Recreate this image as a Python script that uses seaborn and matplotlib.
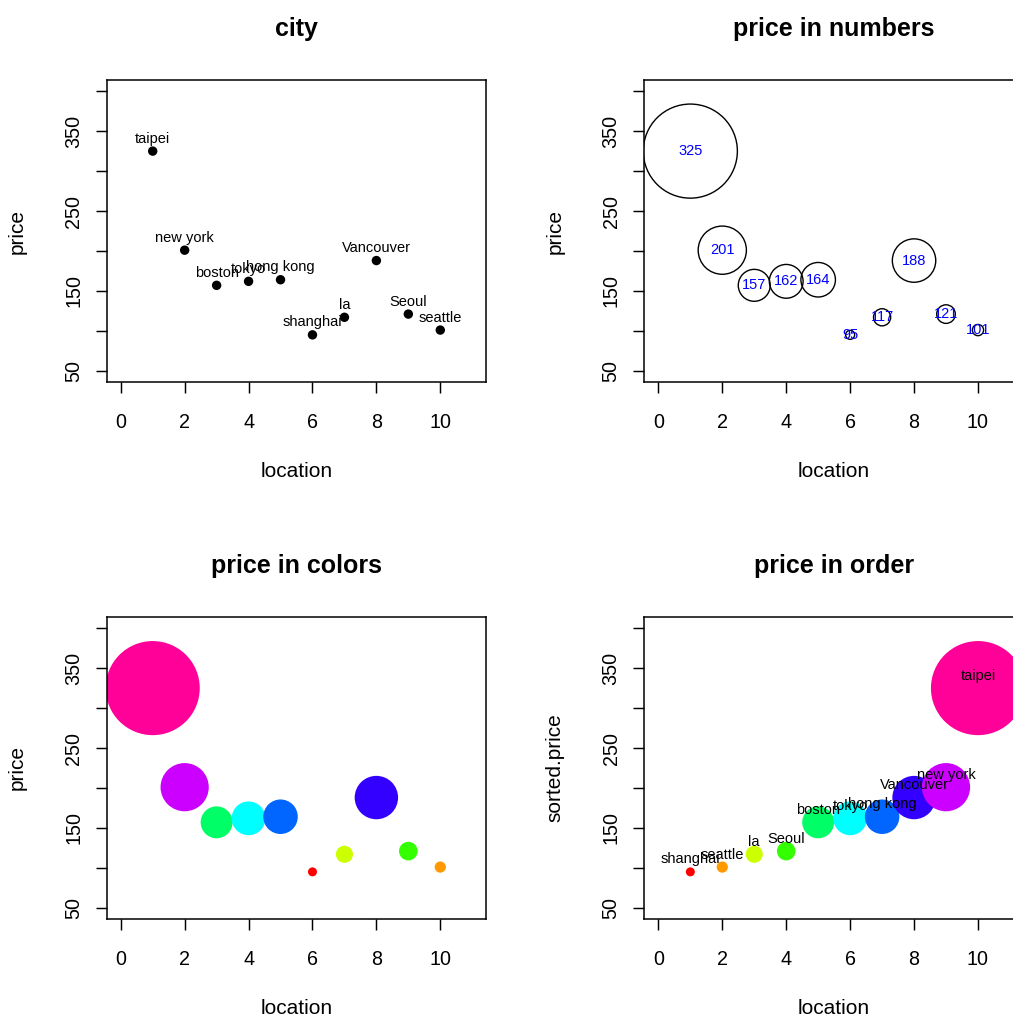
import numpy as np
import pandas as pd
import matplotlib
matplotlib.use("Agg")
import matplotlib.pyplot as plt
import seaborn as sns

# ---- data -------------------------------------------------------------
cities = ["taipei", "new york", "boston", "tokyo", "hong kong",
          "shanghai", "la", "Vancouver", "Seoul", "seattle"]
prices = [325, 201, 157, 162, 164, 95, 117, 188, 121, 101]
locations = list(range(1, 11))

# R's rainbow(10), assigned from cheapest to most expensive
rainbow10 = ["#FF0000", "#FF9900", "#CCFF00", "#33FF00", "#00FF66",
             "#00FFFF", "#0066FF", "#3300FF", "#CC00FF", "#FF0099"]

x_ticks = [0, 2, 4, 6, 8, 10]
y_ticks = [50, 100, 150, 200, 250, 300, 350, 400]
y_tick_labels = ["50", "", "150", "", "250", "", "350", ""]
titles = ["city", "price in numbers", "price in colors", "price in order"]

# ---- style ------------------------------------------------------------
sns.set_style("ticks")
plt.rcParams["font.family"] = ["Liberation Sans", "DejaVu Sans"]
plt.rcParams["axes.edgecolor"] = "black"
plt.rcParams["text.color"] = "black"
plt.rcParams["axes.labelcolor"] = "black"
plt.rcParams["xtick.color"] = "black"
plt.rcParams["ytick.color"] = "black"

W, H = 1013, 1019
DPI = 100

df = pd.DataFrame({"city": cities, "location": locations, "price": prices})
rank = df["price"].rank(method="first").astype(int) - 1
df["color"] = [rainbow10[r] for r in rank]
palette = dict(zip(df["city"], df["color"]))


def bubble_area(p):
    # circle diameter grows linearly with price (in points), area for scatter
    diam_pt = 0.37 * (np.asarray(p, dtype=float) - 70.7) * 72 / DPI
    return diam_pt ** 2


df["area"] = bubble_area(df["price"])

sorted_df = df.sort_values("price").reset_index(drop=True)
sorted_df["location"] = np.arange(1, len(sorted_df) + 1)
sorted_df = sorted_df.rename(columns={"price": "sorted.price"})

fig = plt.figure(figsize=(W / DPI, H / DPI), dpi=DPI)


def px_rect(left, top, right, bottom):
    return [left / W, 1 - bottom / H, (right - left) / W, (bottom - top) / H]


ax1 = fig.add_axes(px_rect(106.7, 80, 486.3, 382))
ax2 = fig.add_axes(px_rect(644.3, 80, 1024, 382))
ax3 = fig.add_axes(px_rect(106.7, 617, 486.3, 919))
ax4 = fig.add_axes(px_rect(644.3, 617, 1024, 919))


def frame(ax, title, ylabel):
    ax.set_xlim(-0.44, 11.44)
    ax.set_ylim(36, 414)
    ax.set_xticks(x_ticks)
    ax.set_yticks(y_ticks)
    ax.set_yticklabels(y_tick_labels)
    ax.tick_params(direction="out", length=8, width=1.05, labelsize=14.2)
    ax.tick_params(axis="x", pad=14.5)
    ax.tick_params(axis="y", pad=9, labelrotation=90)
    for lbl in ax.get_yticklabels():
        lbl.set_va("center")
    for sp in ax.spines.values():
        sp.set_visible(True)
        sp.set_linewidth(1.1)
        sp.set_color("black")
    ax.set_xlabel("location", fontsize=15)
    ax.set_ylabel(ylabel, fontsize=15)
    ax.xaxis.set_label_coords(0.5, -0.265)
    ax.yaxis.set_label_coords(-0.21, 0.5)
    ax.set_title(title, fontsize=18, fontweight="bold", y=1.146, pad=0)


# 1: cities as plain dots with names above
sns.scatterplot(data=df, x="location", y="price", color="black", s=46,
                edgecolor="none", ax=ax1)
for _, r in df.iterrows():
    ax1.annotate(r["city"], (r["location"], r["price"]), xytext=(0, 9),
                 textcoords="offset points", ha="center", va="center",
                 fontsize=10.5)
frame(ax1, titles[0], "price")

# 2: open circles sized by price with the price written in blue
sns.scatterplot(data=df, x="location", y="price", s=df["area"],
                color="black", linewidth=1.0, ax=ax2)
ax2.collections[-1].set_facecolor("none")
ax2.collections[-1].set_edgecolor("black")
for _, r in df.iterrows():
    ax2.text(r["location"], r["price"], str(r["price"]), ha="center",
             va="center", fontsize=10.5, color="#0000FF")
frame(ax2, titles[1], "price")

# 3: filled circles sized and coloured by price
sns.scatterplot(data=df, x="location", y="price", hue="city",
                palette=palette, s=df["area"], linewidth=0, legend=False,
                ax=ax3)
frame(ax3, titles[2], "price")

# 4: the same circles sorted by price, labelled with city names
sns.scatterplot(data=sorted_df, x="location", y="sorted.price", hue="city",
                palette=palette, s=sorted_df["area"], linewidth=0,
                legend=False, ax=ax4)
for _, r in sorted_df.iterrows():
    ax4.annotate(r["city"], (r["location"], r["sorted.price"]),
                 xytext=(0, 9), textcoords="offset points", ha="center",
                 va="center", fontsize=10.5)
frame(ax4, titles[3], "sorted.price")

fig.savefig("out.png", dpi=DPI)
